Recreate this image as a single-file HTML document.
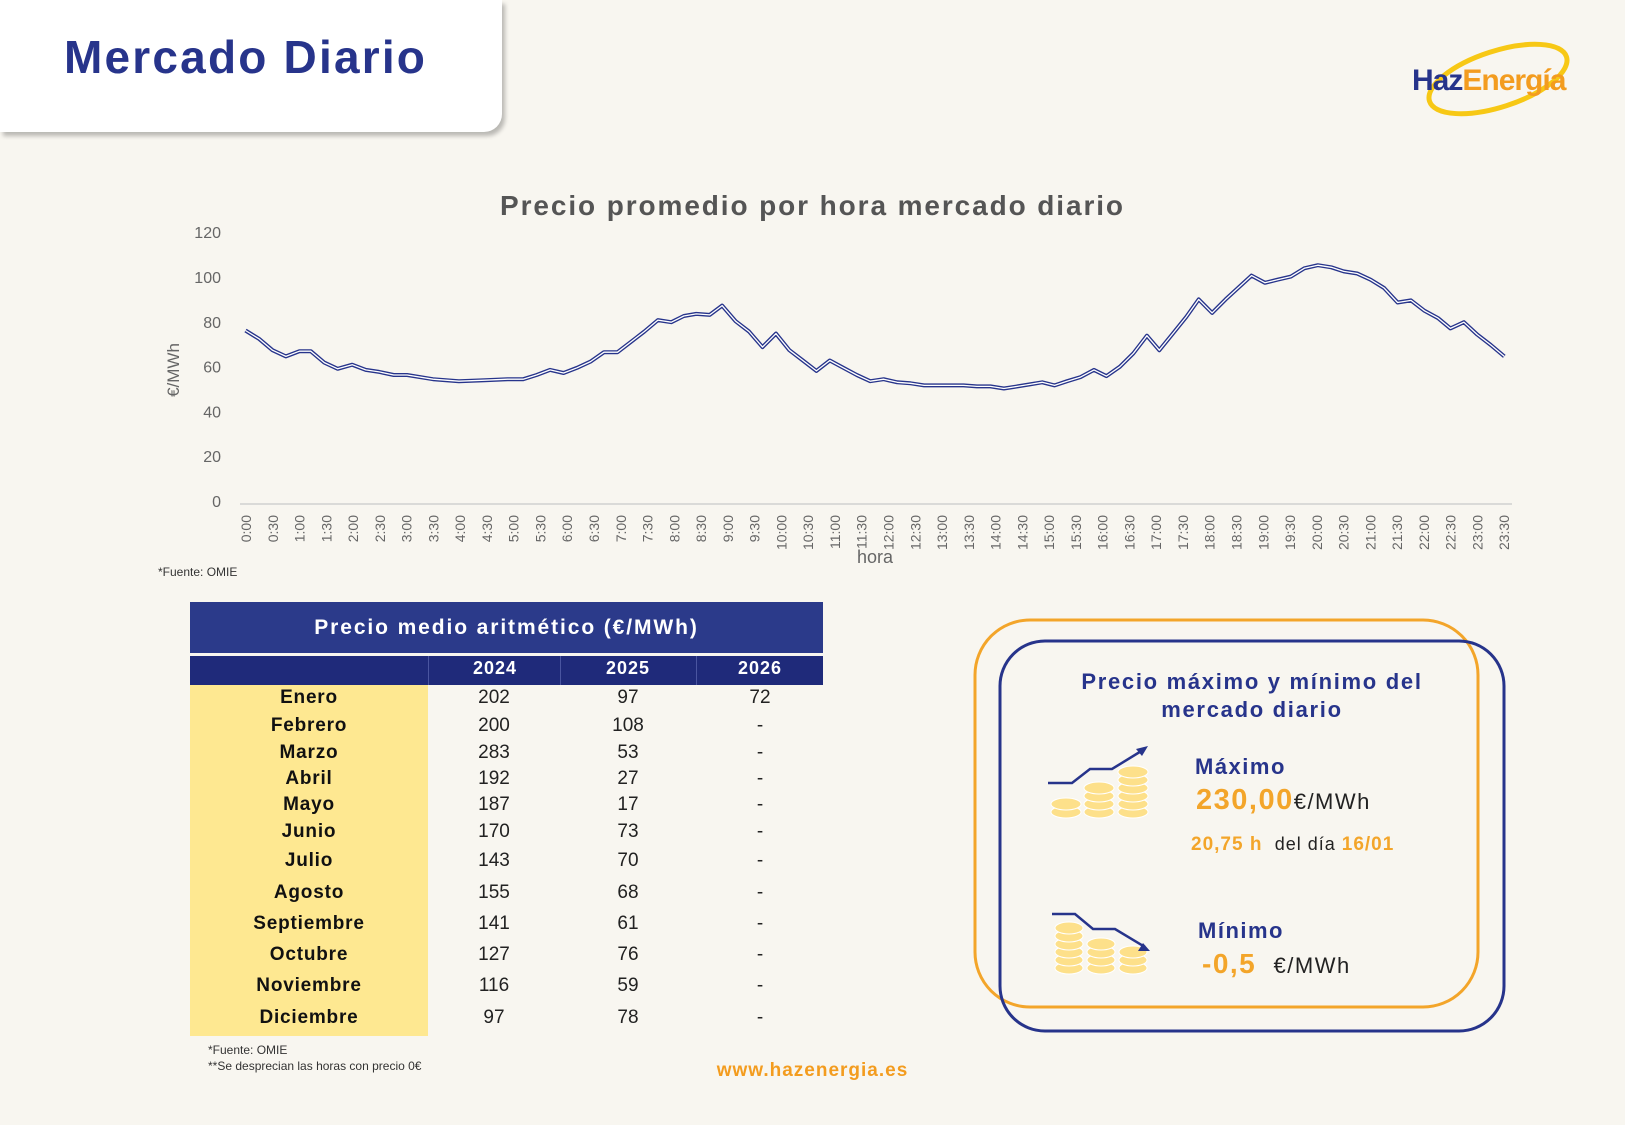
<!DOCTYPE html>
<html><head><meta charset="utf-8">
<style>
body{margin:0;width:1625px;height:1125px;background:#f8f6f0;position:relative;overflow:hidden;font-family:"Liberation Sans",sans-serif}
.a{position:absolute;white-space:nowrap}
.hdr{position:absolute;left:0;top:0;width:502px;height:132px;background:#fff;border-bottom-right-radius:18px;box-shadow:3px 4px 4px rgba(0,0,0,0.25)}
</style></head><body>
<div class="hdr"></div>
<div class="a" style="left:64px;top:30px;font-size:46px;font-weight:bold;color:#27348b;letter-spacing:2.2px">Mercado Diario</div>
<svg class="a" style="left:1400px;top:35px" width="190" height="90">
<ellipse cx="98" cy="44" rx="72" ry="28" transform="rotate(-18 98 44)" fill="none" stroke="#f7c815" stroke-width="5"/>
<text x="12" y="55" font-family="Liberation Sans" font-weight="bold" font-size="30" letter-spacing="-1"><tspan fill="#27348b">Haz</tspan><tspan fill="#f39c1f">Energía</tspan></text>
</svg>
<div class="a" style="left:0;width:1625px;text-align:center;top:190px;font-size:28px;font-weight:bold;color:#555;letter-spacing:1.9px">Precio promedio por hora mercado diario</div>
<svg id="ch" class="a" style="left:0;top:0" width="1625" height="600"></svg>
<div class="a" style="left:158px;top:565px;font-size:12px;color:#333">*Fuente: OMIE</div>

<div class="a" style="left:190px;top:602px;width:633px;height:51px;background:#2b3a8a;color:#fff;font-weight:bold;font-size:21px;text-align:center;line-height:51px;letter-spacing:1.9px">Precio medio aritmético (€/MWh)</div>
<div class="a" style="left:190px;top:656px;width:633px;height:29px;background:#1f2a7a"></div>
<div class="a" style="left:428px;top:656px;width:1px;height:29px;background:#4a55a0"></div>
<div class="a" style="left:560px;top:656px;width:1px;height:29px;background:#4a55a0"></div>
<div class="a" style="left:696px;top:656px;width:1px;height:29px;background:#4a55a0"></div>
<div class="a" style="left:445px;width:100px;text-align:center;top:658px;color:#fff;font-weight:bold;font-size:18px;letter-spacing:1px">2024</div>
<div class="a" style="left:578px;width:100px;text-align:center;top:658px;color:#fff;font-weight:bold;font-size:18px;letter-spacing:1px">2025</div>
<div class="a" style="left:710px;width:100px;text-align:center;top:658px;color:#fff;font-weight:bold;font-size:18px;letter-spacing:1px">2026</div>
<div class="a" style="left:190px;top:685px;width:238px;height:351px;background:#fee891"></div>
<div id="rows"></div>
<div class="a" style="left:208px;top:1042px;font-size:12px;color:#333;line-height:16px">*Fuente: OMIE<br>**Se desprecian las horas con precio 0€</div>
<div class="a" style="left:0;width:1625px;text-align:center;top:1060px;font-size:19px;font-weight:bold;color:#f39c1f;letter-spacing:1px">www.hazenergia.es</div>

<svg class="a" style="left:0;top:0" width="1625" height="1125">
<rect x="975" y="620" width="503" height="387" rx="55" fill="none" stroke="#f3a52a" stroke-width="3"/>
<rect x="1000" y="641" width="504" height="390" rx="45" fill="none" stroke="#27348b" stroke-width="3"/>
<g fill="#fde08a" stroke="#fff" stroke-width="1">
<ellipse cx="1066" cy="812" rx="15" ry="6"/><ellipse cx="1066" cy="804" rx="15" ry="6"/>
<ellipse cx="1099" cy="812" rx="15" ry="6"/><ellipse cx="1099" cy="804" rx="15" ry="6"/><ellipse cx="1099" cy="796" rx="15" ry="6"/><ellipse cx="1099" cy="788" rx="15" ry="6"/>
<ellipse cx="1133" cy="812" rx="15" ry="6"/><ellipse cx="1133" cy="804" rx="15" ry="6"/><ellipse cx="1133" cy="796" rx="15" ry="6"/><ellipse cx="1133" cy="788" rx="15" ry="6"/><ellipse cx="1133" cy="780" rx="15" ry="6"/><ellipse cx="1133" cy="772" rx="15" ry="6"/>
<ellipse cx="1069" cy="968" rx="14" ry="6"/><ellipse cx="1069" cy="960" rx="14" ry="6"/><ellipse cx="1069" cy="952" rx="14" ry="6"/><ellipse cx="1069" cy="944" rx="14" ry="6"/><ellipse cx="1069" cy="936" rx="14" ry="6"/><ellipse cx="1069" cy="928" rx="14" ry="6"/>
<ellipse cx="1101" cy="968" rx="14" ry="6"/><ellipse cx="1101" cy="960" rx="14" ry="6"/><ellipse cx="1101" cy="952" rx="14" ry="6"/><ellipse cx="1101" cy="944" rx="14" ry="6"/>
<ellipse cx="1133" cy="968" rx="14" ry="6"/><ellipse cx="1133" cy="960" rx="14" ry="6"/><ellipse cx="1133" cy="952" rx="14" ry="6"/>
</g>
<polyline points="1048,783 1072,783 1090,769 1112,769 1143,750" fill="none" stroke="#27348b" stroke-width="2.5"/>
<polygon points="1148,746 1136,749 1142,756" fill="#27348b"/>
<polyline points="1052,914 1075,914 1093,929 1115,929 1145,947" fill="none" stroke="#27348b" stroke-width="2.5"/>
<polygon points="1150,951 1138,951 1143,943" fill="#27348b"/>
</svg>
<div class="a" style="left:1000px;width:504px;text-align:center;top:668px;font-size:22px;font-weight:bold;color:#27348b;line-height:28px;letter-spacing:1.7px">Precio máximo y mínimo del<br>mercado diario</div>
<div class="a" style="left:1195px;top:754px;font-size:22px;font-weight:bold;color:#27348b;letter-spacing:1.5px">Máximo</div>
<div class="a" style="left:1196px;top:784px;font-size:29px;font-weight:bold;color:#f3a52a;letter-spacing:1.5px">230,00<span style="font-size:22px;font-weight:normal;color:#222;letter-spacing:1.5px">€/MWh</span></div>
<div class="a" style="left:1191px;top:834px;font-size:19px;font-weight:bold;color:#f3a52a;letter-spacing:1px">20,75 h <span style="font-weight:normal;color:#222;font-size:18px">&nbsp;del día </span> 16/01</div>
<div class="a" style="left:1198px;top:918px;font-size:22px;font-weight:bold;color:#27348b;letter-spacing:1.5px">Mínimo</div>
<div class="a" style="left:1202px;top:948px;font-size:28px;font-weight:bold;color:#f3a52a;letter-spacing:1.5px">-0,5 <span style="font-size:22px;font-weight:normal;color:#222;margin-left:8px">€/MWh</span></div>

<script>
var s=1.036,ns="http://www.w3.org/2000/svg",svg=document.getElementById('ch');
function el(t,a,txt){var e=document.createElementNS(ns,t);for(var k in a)e.setAttribute(k,a[k]);if(txt!=null)e.textContent=txt;svg.appendChild(e);return e;}
[120,100,80,60,40,20,0].forEach(function(v){var y=501-v*2.24;el('text',{x:221,y:y+6,'text-anchor':'end','font-size':16,fill:'#666','font-family':'Liberation Sans'},v);});
el('line',{x1:240,y1:504,x2:1512,y2:504,stroke:'#d0d0d0','stroke-width':1.5});
for(var i=0;i<48;i++){var x=246+i*26.77,h=Math.floor(i/2)+':'+(i%2?'30':'00');
el('text',{x:0,y:0,transform:'translate('+(x+5)+',515) rotate(-90)','text-anchor':'end','font-size':14,fill:'#666','font-family':'Liberation Sans'},h);}
el('text',{x:875,y:563,'text-anchor':'middle','font-size':18,fill:'#666','font-family':'Liberation Sans'},'hora');
el('text',{x:0,y:0,transform:'translate(179,370) rotate(-90)','text-anchor':'middle','font-size':17,fill:'#666','font-family':'Liberation Sans'},'€/MWh');
var p=[237,319,250,327,263,338,276,344,289,339,300,339,313,350,326,356,340,352,353,357,366,359,380,362,393,362,418,366,443,368,468,367,490,366,505,366,518,362,531,357,544,360,557,355,570,349,583,340,596,340,609,330,622,320,635,309,648,311,660,305,672,303,685,304,697,295,710,310,723,320,736,335,749,322,762,338,775,348,788,358,801,348,814,355,827,362,840,368,853,366,866,369,879,370,892,372,918,372,930,372,943,373,956,373,969,375,982,373,994,371,1006,369,1018,372,1030,368,1043,364,1056,357,1068,363,1081,354,1094,341,1107,324,1119,338,1132,322,1145,306,1157,289,1170,302,1183,289,1196,277,1208,266,1221,273,1233,270,1246,267,1259,259,1272,256,1285,258,1297,262,1310,264,1323,270,1336,278,1349,292,1362,290,1375,300,1388,307,1400,317,1413,311,1426,323,1439,333,1452,344];
var pts=[];for(var j=0;j<p.length;j+=2)pts.push((p[j]*s).toFixed(1)+','+(p[j+1]*s).toFixed(1));
el('polyline',{points:pts.join(' '),fill:'none',stroke:'#27348b','stroke-width':4,'stroke-linejoin':'round'});
el('polyline',{points:pts.join(' '),fill:'none',stroke:'#fff','stroke-width':1.3,'stroke-linejoin':'round'});
var R=[['Enero',202,97,72],['Febrero',200,108,'-'],['Marzo',283,53,'-'],['Abril',192,27,'-'],['Mayo',187,17,'-'],['Junio',170,73,'-'],['Julio',143,70,'-'],['Agosto',155,68,'-'],['Septiembre',141,61,'-'],['Octubre',127,76,'-'],['Noviembre',116,59,'-'],['Diciembre',97,78,'-']];
var Y=[674,701,727,752,777,803,831,862,892,922,952,983],h='';
R.forEach(function(r,k){var y=Y[k]*s-11;
h+='<div class="a" style="left:190px;width:238px;text-align:center;top:'+y+'px;font-size:19px;font-weight:bold;color:#111;letter-spacing:0.8px">'+r[0]+'</div>';
[494,628,760].forEach(function(c,m){h+='<div class="a" style="left:'+(c-50)+'px;width:100px;text-align:center;top:'+y+'px;font-size:19px;color:#222">'+r[m+1]+'</div>';});});
document.getElementById('rows').innerHTML=h;
</script>
</body></html>
